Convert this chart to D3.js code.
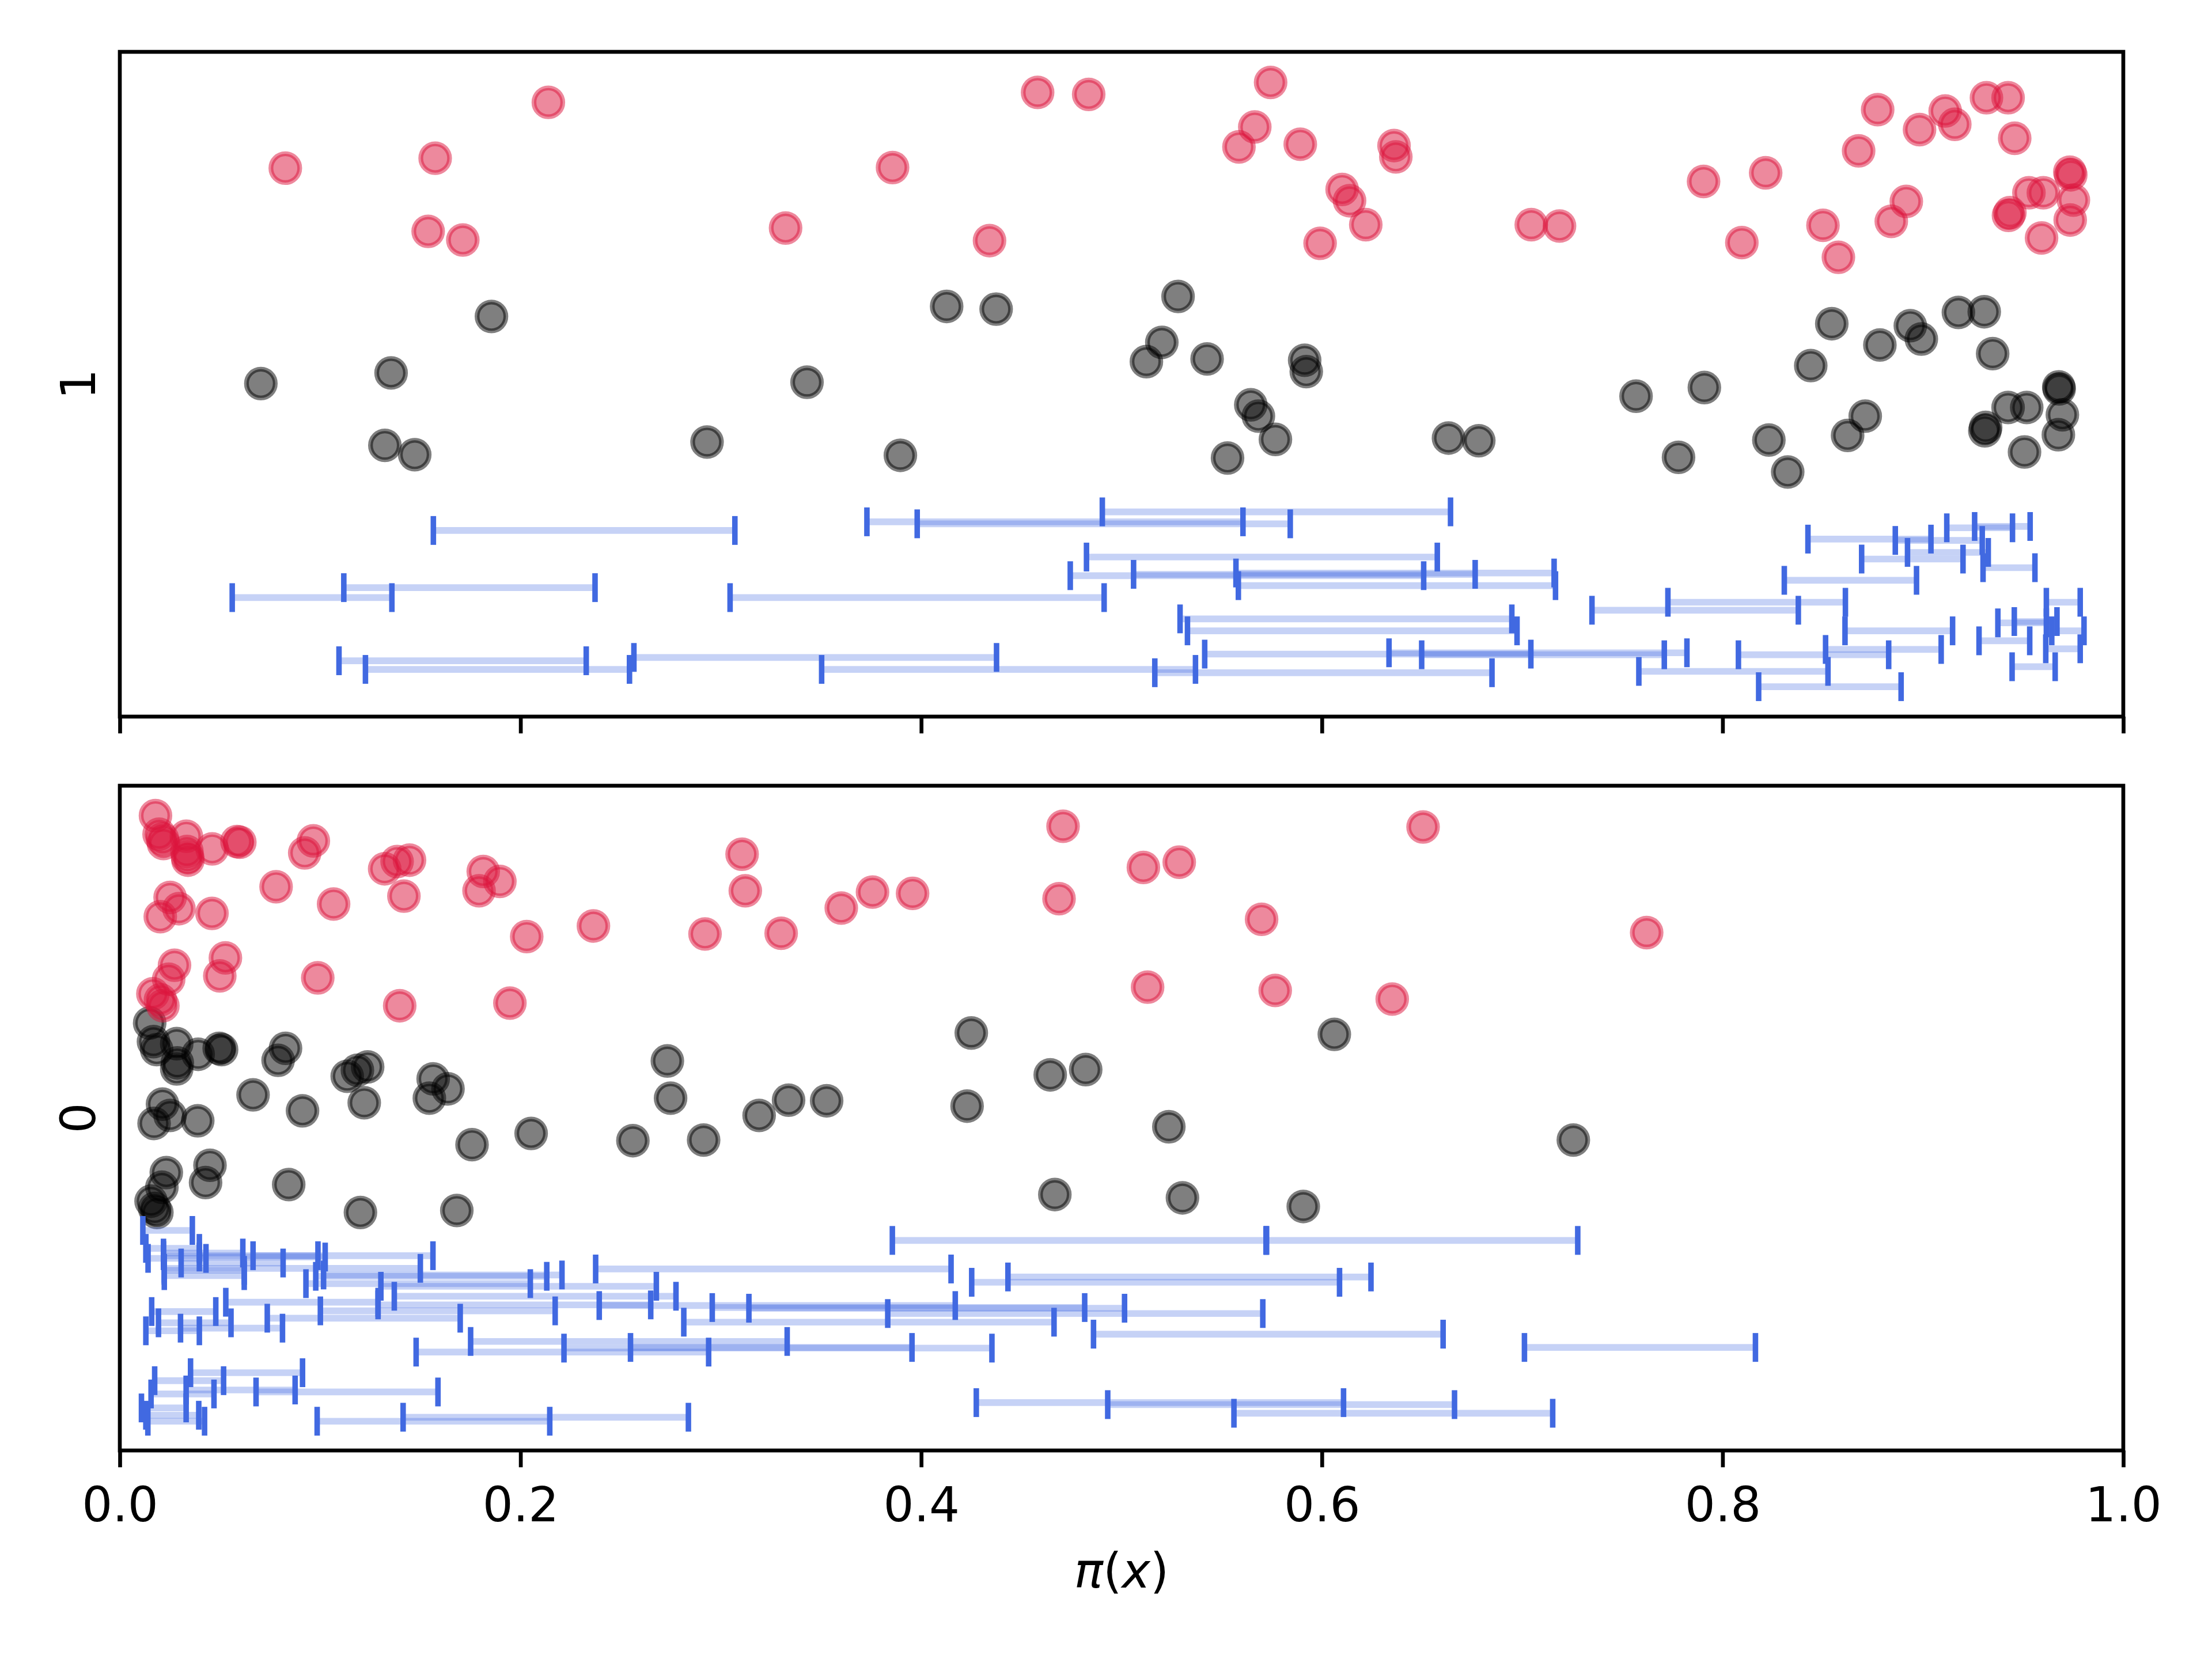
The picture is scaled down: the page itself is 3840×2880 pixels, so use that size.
<!DOCTYPE html>
<html>
<head>
<meta charset="utf-8">
<script src="https://cdn.jsdelivr.net/npm/d3@7"></script>
<style>
    body { margin: 0; background: #fff; }
</style>
</head>
<body>
<script>
// panel labels (class) and x ticks
const panelClasses = [1, 0];
const xTickValues = [0.0, 0.2, 0.4, 0.6, 0.8, 1.0];

// class 1 panel: [pi(x), jittered y]
const redTop = [
    [0.0826, 1.325], [0.1574, 1.340], [0.2139, 1.424], [0.1539, 1.230], [0.1712, 1.217], [0.3323, 1.235],
    [0.3857, 1.326], [0.4581, 1.439], [0.4836, 1.436], [0.4341, 1.216], [0.5744, 1.454], [0.5665, 1.387],
    [0.5586, 1.357], [0.5892, 1.361], [0.6360, 1.359], [0.6369, 1.342], [0.6101, 1.293], [0.6138, 1.276],
    [0.6219, 1.240], [0.5991, 1.212], [0.8774, 1.413], [0.8983, 1.383], [0.9111, 1.411], [0.9159, 1.391],
    [0.9317, 1.431], [0.9425, 1.431], [0.9458, 1.370], [0.8679, 1.351], [0.8215, 1.318], [0.7905, 1.305],
    [0.8917, 1.275], [0.8842, 1.245], [0.8501, 1.239], [0.8578, 1.191], [0.8096, 1.213], [0.7045, 1.240],
    [0.7186, 1.238], [0.9529, 1.288], [0.9601, 1.288], [0.9733, 1.319], [0.9738, 1.315], [0.9751, 1.277],
    [0.9434, 1.258], [0.9427, 1.254], [0.9735, 1.247], [0.9592, 1.220]
];
const blackTop = [
    [0.1855, 1.102], [0.0704, 1.001], [0.1354, 1.017], [0.1323, 0.908], [0.1472, 0.894], [0.2931, 0.913],
    [0.3430, 1.003], [0.3896, 0.893], [0.4127, 1.117], [0.4374, 1.113], [0.5282, 1.132], [0.5201, 1.063],
    [0.5124, 1.034], [0.5427, 1.038], [0.5914, 1.036], [0.5922, 1.019], [0.5645, 0.969], [0.5683, 0.952],
    [0.5768, 0.917], [0.5529, 0.889], [0.6632, 0.919], [0.6783, 0.915], [0.7568, 0.982], [0.7909, 0.995],
    [0.7780, 0.890], [0.8231, 0.916], [0.8325, 0.868], [0.8440, 1.028], [0.8545, 1.091], [0.8785, 1.059],
    [0.8937, 1.088], [0.8992, 1.068], [0.9177, 1.108], [0.9306, 1.109], [0.9348, 1.046], [0.9678, 0.996],
    [0.9680, 0.993], [0.8624, 0.923], [0.8712, 0.952], [0.9425, 0.965], [0.9518, 0.965], [0.9696, 0.954],
    [0.9313, 0.935], [0.9309, 0.930], [0.9676, 0.924], [0.9507, 0.898]
];
// [lower, upper, y]
const intervalsTop = [
    [0.1565, 0.3070, 0.780], [0.1118, 0.2372, 0.694], [0.0561, 0.1358, 0.679], [0.3046, 0.4913, 0.679],
    [0.1094, 0.2328, 0.584], [0.1226, 0.2544, 0.571], [0.2566, 0.4376, 0.589], [0.3503, 0.5369, 0.571],
    [0.5166, 0.6849, 0.566], [0.4904, 0.6642, 0.808], [0.3729, 0.5606, 0.793], [0.3980, 0.5842, 0.790],
    [0.4825, 0.6576, 0.740], [0.4744, 0.6508, 0.712], [0.5060, 0.6765, 0.714], [0.5571, 0.7159, 0.716],
    [0.5583, 0.7166, 0.697], [0.5292, 0.6948, 0.647], [0.5329, 0.6974, 0.629], [0.5415, 0.7043, 0.594],
    [0.6335, 0.7822, 0.596], [0.6498, 0.7709, 0.593], [0.7582, 0.8526, 0.568], [0.8180, 0.8891, 0.545],
    [0.7727, 0.8613, 0.672], [0.7348, 0.8378, 0.660], [0.8308, 0.8968, 0.705], [0.8611, 0.9148, 0.629],
    [0.8079, 0.8829, 0.593], [0.8514, 0.9091, 0.601], [0.8426, 0.9040, 0.767], [0.8862, 0.9296, 0.765],
    [0.9119, 0.9447, 0.784], [0.9258, 0.9535, 0.786], [0.8694, 0.9200, 0.737], [0.8923, 0.9326, 0.747],
    [0.9300, 0.9559, 0.724], [0.9616, 0.9785, 0.672], [0.9374, 0.9616, 0.641], [0.9456, 0.9669, 0.643],
    [0.9643, 0.9804, 0.629], [0.9280, 0.9533, 0.614], [0.9613, 0.9785, 0.602], [0.9445, 0.9660, 0.575]
];

// class 0 panel
const redBottom = [
    [0.0178, 0.455], [0.0196, 0.427], [0.0213, 0.420], [0.0218, 0.413], [0.0332, 0.424], [0.0335, 0.401],
    [0.0338, 0.393], [0.0340, 0.388], [0.0461, 0.405], [0.0585, 0.416], [0.0599, 0.415], [0.0966, 0.417],
    [0.0923, 0.399], [0.0780, 0.348], [0.1067, 0.322], [0.1322, 0.375], [0.1384, 0.386], [0.1446, 0.388],
    [0.1418, 0.334], [0.1814, 0.371], [0.1897, 0.356], [0.1793, 0.342], [0.2031, 0.273], [0.0251, 0.332],
    [0.0295, 0.315], [0.0202, 0.303], [0.0460, 0.308], [0.0273, 0.230], [0.0244, 0.209], [0.0527, 0.241],
    [0.0499, 0.214], [0.0165, 0.187], [0.0203, 0.178], [0.0215, 0.169], [0.0988, 0.211], [0.1397, 0.169],
    [0.1947, 0.173], [0.2364, 0.289], [0.3106, 0.397], [0.3122, 0.342], [0.2921, 0.277], [0.3301, 0.278],
    [0.3601, 0.316], [0.3757, 0.340], [0.3957, 0.338], [0.4708, 0.439], [0.4688, 0.330], [0.5109, 0.377],
    [0.5288, 0.385], [0.5130, 0.197], [0.5699, 0.299], [0.5767, 0.192], [0.6505, 0.438], [0.6351, 0.179],
    [0.7621, 0.279]
];
const blackBottom = [
    [0.6062, 0.126], [0.7255, -0.033], [0.5907, -0.133], [0.2733, 0.086], [0.2749, 0.030], [0.2561, -0.034],
    [0.2914, -0.033], [0.3191, 0.004], [0.3338, 0.027], [0.3528, 0.026], [0.4250, 0.128], [0.4229, 0.018],
    [0.4644, 0.065], [0.4821, 0.073], [0.5236, -0.013], [0.4667, -0.115], [0.5304, -0.120], [0.0149, 0.143],
    [0.0168, 0.115], [0.0184, 0.103], [0.0284, 0.112], [0.0287, 0.083], [0.0284, 0.074], [0.0391, 0.096],
    [0.0496, 0.105], [0.0508, 0.103], [0.0827, 0.105], [0.0790, 0.087], [0.0665, 0.035], [0.0912, 0.011],
    [0.1135, 0.063], [0.1186, 0.072], [0.1237, 0.077], [0.1220, 0.023], [0.1564, 0.059], [0.1638, 0.044],
    [0.1545, 0.030], [0.1758, -0.040], [0.2053, -0.023], [0.0213, 0.021], [0.0251, 0.004], [0.0171, -0.008],
    [0.0389, -0.004], [0.0232, -0.082], [0.0450, -0.071], [0.0210, -0.104], [0.0428, -0.097], [0.0156, -0.125],
    [0.0174, -0.136], [0.0185, -0.142], [0.0843, -0.100], [0.1201, -0.142], [0.1682, -0.139]
];
const intervalsBottom = [
    [0.0115, 0.0362, -0.169], [0.0130, 0.0397, -0.196], [0.0141, 0.0430, -0.211], [0.0218, 0.0614, -0.203],
    [0.0665, 0.1563, -0.207], [0.0397, 0.1025, -0.209], [0.0218, 0.0989, -0.207], [0.0306, 0.0815, -0.218],
    [0.0222, 0.1500, -0.226], [0.0222, 0.0621, -0.237], [0.0222, 0.0621, -0.229], [0.0929, 0.2049, -0.249],
    [0.0978, 0.2131, -0.238], [0.1017, 0.2207, -0.236], [0.1303, 0.2678, -0.253], [0.1370, 0.2776, -0.268],
    [0.0529, 0.1289, -0.277], [0.1289, 0.2650, -0.281], [0.0159, 0.0479, -0.291], [0.1001, 0.2173, -0.290],
    [0.0736, 0.1699, -0.301], [0.0193, 0.0555, -0.308], [0.0303, 0.0812, -0.316], [0.0130, 0.0397, -0.320],
    [0.1479, 0.2939, -0.352], [0.1751, 0.3331, -0.336], [0.2217, 0.4353, -0.346], [0.2549, 0.3954, -0.345],
    [0.0353, 0.0912, -0.383], [0.0174, 0.0518, -0.395], [0.0680, 0.1588, -0.412], [0.0331, 0.0875, -0.409],
    [0.0156, 0.0470, -0.415], [0.0108, 0.0331, -0.436], [0.0130, 0.0394, -0.447], [0.0140, 0.0423, -0.456],
    [0.0985, 0.2146, -0.456], [0.1414, 0.2838, -0.450], [0.3856, 0.5721, -0.184], [0.5724, 0.7277, -0.184],
    [0.2375, 0.4149, -0.227], [0.4433, 0.6245, -0.239], [0.4252, 0.6088, -0.247], [0.3833, 0.5705, -0.294],
    [0.3140, 0.5015, -0.286], [0.2957, 0.4816, -0.285], [0.2393, 0.4170, -0.282], [0.2815, 0.4663, -0.307],
    [0.4860, 0.6605, -0.325], [0.7011, 0.8164, -0.345], [0.4275, 0.6108, -0.428], [0.4931, 0.6662, -0.431],
    [0.5561, 0.7152, -0.444]
];

const PT = 600 / 72;           // figure was 600 dpi
const FONT = 'DejaVu Sans';
const plotLeft = 208, plotRight = 3686;
const panelTops = [90, 1364];
const panelHeight = 1154;

const svg = d3.select('body').append('svg')
    .attr('width', 3840).attr('height', 2880)
    .attr('xmlns', 'http://www.w3.org/2000/svg');

svg.append('rect').attr('width', 3840).attr('height', 2880).attr('fill', '#fff');

const x = d3.scaleLinear().domain([0, 1]).range([plotLeft, plotRight]);

function drawPanel(index, cls, red, black, intervals, showTickLabels) {
    const top = panelTops[index];
    const y = d3.scaleLinear().domain([cls + 0.5, cls - 0.5]).range([top, top + panelHeight]);
    const g = svg.append('g');

    for (const [pts, color] of [[black, '#000'], [red, 'crimson']]) {
        g.append('g').selectAll('circle').data(pts).join('circle')
            .attr('cx', d => x(d[0]))
            .attr('cy', d => y(d[1]))
            .attr('r', 3 * PT)
            .attr('fill', color).attr('fill-opacity', 0.5)
            .attr('stroke', color).attr('stroke-opacity', 0.5)
            .attr('stroke-width', PT);
    }

    // interval bars, then the end markers on top
    g.append('g').selectAll('line').data(intervals).join('line')
        .attr('x1', d => x(d[0])).attr('x2', d => x(d[1]))
        .attr('y1', d => y(d[2])).attr('y2', d => y(d[2]))
        .attr('stroke', 'royalblue').attr('stroke-opacity', 0.3)
        .attr('stroke-width', 1.4 * PT);

    const ends = intervals.flatMap(d => [[d[0], d[2]], [d[1], d[2]]]);
    g.append('g').selectAll('line').data(ends).join('line')
        .attr('x1', d => x(d[0])).attr('x2', d => x(d[0]))
        .attr('y1', d => y(d[1]) - 3 * PT).attr('y2', d => y(d[1]) + 3 * PT)
        .attr('stroke', 'royalblue')
        .attr('stroke-width', 1.15 * PT);

    // frame
    svg.append('rect')
        .attr('x', plotLeft).attr('y', top)
        .attr('width', plotRight - plotLeft).attr('height', panelHeight)
        .attr('fill', 'none').attr('stroke', '#000').attr('stroke-width', 0.8 * PT);

    const axis = d3.axisBottom(x)
        .tickValues(xTickValues)
        .tickSize(3.5 * PT)
        .tickPadding(35)
        .tickFormat(showTickLabels ? d3.format('.1f') : () => '');
    const gx = svg.append('g')
        .attr('transform', `translate(0,${top + panelHeight})`)
        .call(axis)
        .attr('font-family', FONT)
        .attr('font-size', 10 * PT);
    gx.select('.domain').remove();
    gx.selectAll('.tick line').attr('stroke', '#000').attr('stroke-width', 0.8 * PT);
    gx.selectAll('.tick text').attr('fill', '#000');

    // class label on the left, rotated
    svg.append('text')
        .attr('transform', `translate(165,${top + panelHeight / 2}) rotate(-90)`)
        .attr('text-anchor', 'middle')
        .attr('font-family', FONT)
        .attr('font-size', 10 * PT)
        .attr('fill', '#000')
        .text(String(cls));
}

drawPanel(0, panelClasses[0], redTop, blackTop, intervalsTop, false);
drawPanel(1, panelClasses[1], redBottom, blackBottom, intervalsBottom, true);

const xLabel = svg.append('text')
    .attr('x', (plotLeft + plotRight) / 2)
    .attr('y', 2756)
    .attr('text-anchor', 'middle')
    .attr('font-family', FONT)
    .attr('font-size', 10 * PT)
    .attr('fill', '#000');
xLabel.append('tspan').attr('font-style', 'italic').text('π');
xLabel.append('tspan').text('(');
xLabel.append('tspan').attr('font-style', 'italic').text('x');
xLabel.append('tspan').text(')');
</script>
</body>
</html>
